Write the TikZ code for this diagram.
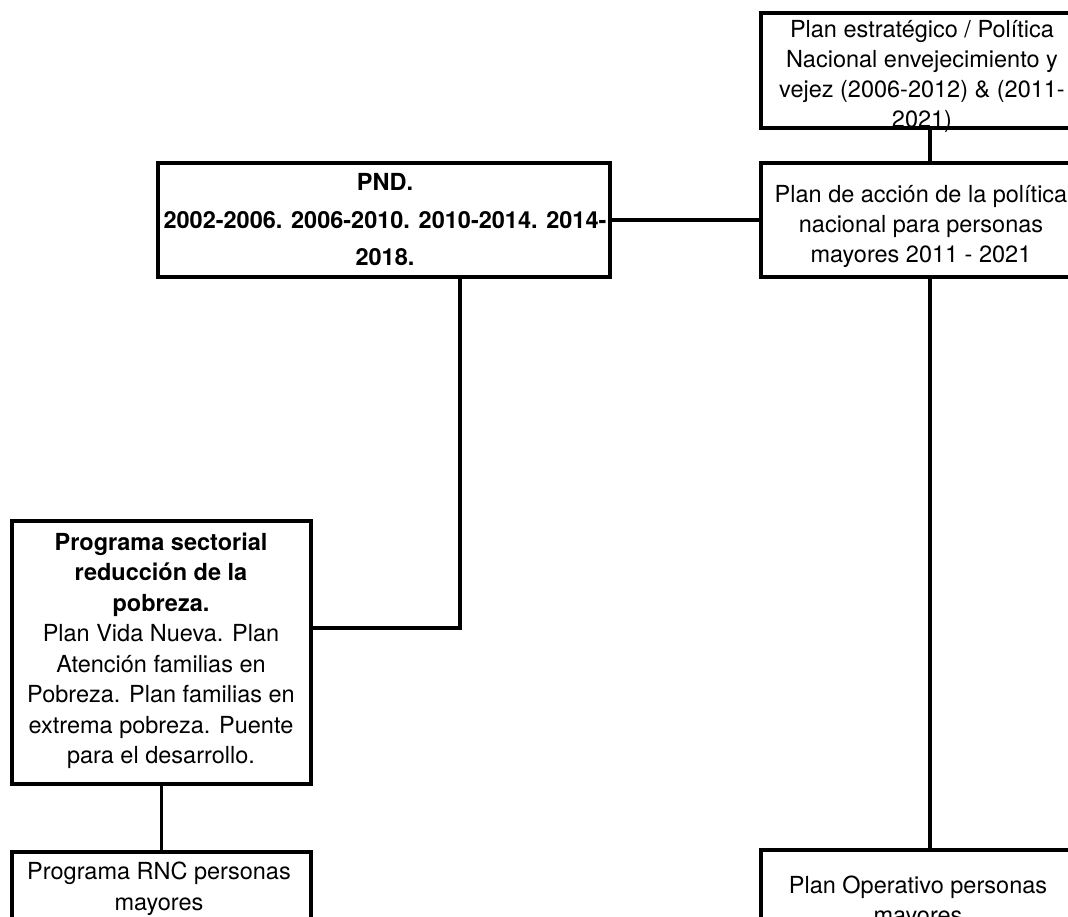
\documentclass[tikz,border=0pt]{standalone}
\usepackage{fontspec}
\setmainfont{TeX Gyre Heros}
\begin{document}
\begin{tikzpicture}[x=1pt,y=-1pt,
  box/.style={draw, line width=3.5pt, rectangle, inner sep=0pt},
  txt/.style={align=center, inner sep=0pt, font=\fontsize{23.5}{30}\selectfont},
  link/.style={line width=3.5pt}]
\useasboundingbox (0,0) rectangle (1068,917);
\clip (0,0) rectangle (1068,917);

% frames
\node[box, minimum width=338pt, minimum height=115pt] (strat) at (930,70.5) {};
\node[box, minimum width=338pt, minimum height=114pt] (act)   at (930,220) {};
\node[box, minimum width=452pt, minimum height=114pt] (pnd)   at (384,220) {};
\node[box, minimum width=299pt, minimum height=263pt] (prog)  at (161.5,652.5) {};
\node[box, minimum width=299pt, minimum height=78pt]  (rnc)   at (161.5,891) {};
\node[box, minimum width=338pt, minimum height=110pt] (oper)  at (930,905) {};

% labels
\node[txt] (stratT) at (922,76) {Plan estratégico / Política\\Nacional envejecimiento y\\vejez (2006-2012) \& (2011-\\2021)};
\node[txt] (actT) at (921,226) {Plan de acción de la política\\nacional para personas\\mayores 2011 - 2021};
\node[txt, font=\bfseries\fontsize{23.5}{37.5}\selectfont] (pndT) at (385,220) {PND.\\2002-2006. 2006-2010. 2010-2014. 2014-\\2018.};
\node[txt, font=\fontsize{23.5}{30.5}\selectfont] (progT) at (161,651) {\textbf{Programa sectorial}\\\textbf{reducción de la}\\\textbf{pobreza.}\\Plan Vida Nueva. Plan\\Atención familias en\\Pobreza. Plan familias en\\extrema pobreza. Puente\\para el desarrollo.};
\node[txt, font=\fontsize{23.5}{31}\selectfont] (rncT) at (159,889) {Programa RNC personas\\mayores};
\node[txt] (operT) at (918,902) {Plan Operativo personas\\mayores};

% connectors
\draw[link] (strat) -- (act);
\draw[link] (pnd) -- (act);
\draw[link] (act) -- (oper);
\draw[link] ([xshift=76pt]pnd.south) |- ([yshift=24.5pt]prog.east);
\draw[link] (prog) -- (rnc);
\end{tikzpicture}
\end{document}
